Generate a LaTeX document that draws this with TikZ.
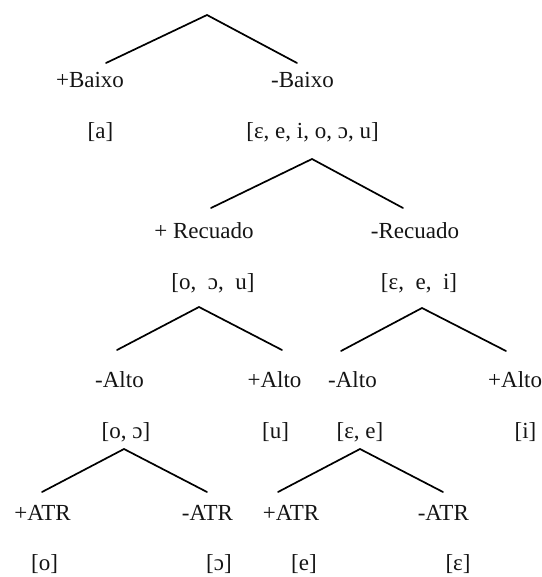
\documentclass[tikz,border=0pt]{standalone}
\usepackage{fontspec}
\setmainfont{Liberation Serif}
\usetikzlibrary{positioning}
\definecolor{Ink}{HTML}{141414}
\tikzset{
  feat/.style={anchor=base,inner sep=0pt,text=Ink,font=\fontsize{23}{27}\selectfont},
  seg/.style={feat},
  branch/.style={line width=1.7pt,line cap=round,line join=miter}
}

\begin{document}
\begin{tikzpicture}[x=1pt,y=-1pt]
        \useasboundingbox (0,0) rectangle (541,577);
        % apices and branch ends
        \foreach \t/\ax/\ay/\lx/\rx/\ey in {1/207/15/106/297/63,2/312/159/211/403/208,
            3/199/307/117/282/350,4/422/308/341/506/351,
            5/124/449/42/207/492,6/360/449/278/443/492}{
          \coordinate (a\t) at (\ax,\ay);
          \coordinate (l\t) at (\lx,\ey);
          \coordinate (r\t) at (\rx,\ey);
        }
        % Baixo
        \node[feat] (pbaixo) at (90,88) {+Baixo};
        \node[feat] (mbaixo) at (302.5,88) {-Baixo};
        \node[seg] (sa) at (100.5,139) {[a]};
        \node[seg] (sall) at (312.5,139) {[ɛ, e, i, o, ɔ, u]};
        % Recuado
        \node[feat] (precuado) at (204,238) {+ Recuado};
        \node[feat] (mrecuado) at (415,238) {-Recuado};
        \node[seg] (sback) at (213,289) {[o,\ \ ɔ,\ \ u]};
        \node[seg] (sfront) at (419,289) {[ɛ,\ \ e,\ \ i]};
        % Alto
        \node[feat] (maltoB) at (119.5,387) {-Alto};
        \node[feat] (paltoB) at (274.5,387) {+Alto};
        \node[feat] (maltoF) at (352.5,387) {-Alto};
        \node[feat,anchor=base west] (paltoF) at (488,387) {+Alto};
        \node[seg] (soo) at (126,438) {[o, ɔ]};
        \node[seg] (su) at (275.5,438) {[u]};
        \node[seg] (see) at (360,438) {[ɛ, e]};
        \node[seg] (si) at (525.5,438) {[i]};
        % ATR
        \node[feat] (patrB) at (42.5,520) {+ATR};
        \node[feat] (matrB) at (207.5,520) {-ATR};
        \node[feat] (patrF) at (291,520) {+ATR};
        \node[feat] (matrF) at (443.3,520) {-ATR};
        \node[seg] (so) at (44.5,570) {[o]};
        \node[seg] (sopen) at (219,570) {[ɔ]};
        \node[seg] (se) at (304,570) {[e]};
        \node[seg] (seps) at (458,570) {[ɛ]};
        % branches
        \foreach \t in {1,...,6}{
          \draw[branch] (l\t) -- (a\t) -- (r\t);
        }
\end{tikzpicture}
\end{document}
